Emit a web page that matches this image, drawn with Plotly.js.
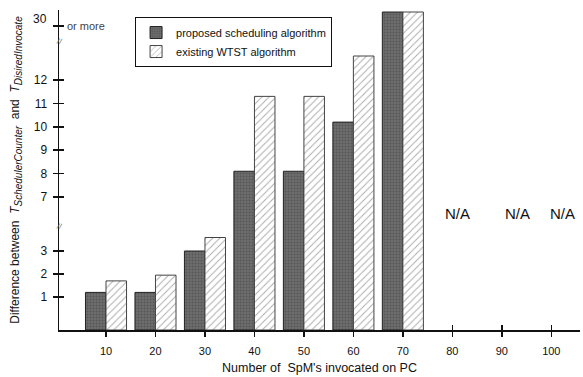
<!DOCTYPE html>
<html><head><meta charset="utf-8">
<script src="https://cdn.plot.ly/plotly-3.0.1.min.js"></script>
<style>html,body{margin:0;padding:0;background:#fff}#chart{width:583px;height:377px}</style>
</head><body><div id="chart"></div>
<script>
const categories = [10, 20, 30, 40, 50, 60, 70, 80, 90, 100];
const proposed = [1.2, 1.2, 3, 8.1, 8.1, 10.2, 35, null, null, null];
const existing = [1.7, 1.95, 4, 11.3, 11.3, 20, 35, null, null, null];
const seriesNames = ['proposed scheduling algorithm', 'existing WTST algorithm'];
const yTickValues = [1, 2, 3, 7, 8, 9, 10, 11, 12];
const yTickLabels = ['1', '2', '3', '7', '8', '9', '10', '11', '12'];
const topValue = 30;
const topLabel = '30';
const topNote = 'or more';
const naCategories = [80, 90, 100];
const naLabels = ['N/A', 'N/A', 'N/A'];
const breakValues = [4.8, 24.7];

// broken-axis scale: value -> display position
const scaleV = [0, 1, 3, 7, 12, 30, 35];
const scaleD = [0, 33, 79, 133, 250, 304, 318];
function brk(v) {
  if (v == null) return null;
  for (let i = 1; i < scaleV.length; i++) {
    if (v <= scaleV[i] || i === scaleV.length - 1) {
      const t = (v - scaleV[i - 1]) / (scaleV[i] - scaleV[i - 1]);
      return scaleD[i - 1] + t * (scaleD[i] - scaleD[i - 1]);
    }
  }
}
const FONT = 'Liberation Sans, Arial, Helvetica, sans-serif';

const traces = [
  {
    type: 'bar', name: seriesNames[0], x: categories, y: proposed.map(brk),
    customdata: proposed, hovertemplate: '%{x}: %{customdata}<extra></extra>',
    marker: { color: '#6a6a6a', line: { color: '#222', width: 1 },
      pattern: { shape: '.', fgcolor: '#555555', bgcolor: '#6e6e6e', size: 3, solidity: 0.35 } }
  },
  {
    type: 'bar', name: seriesNames[1], x: categories, y: existing.map(brk),
    customdata: existing, hovertemplate: '%{x}: %{customdata}<extra></extra>',
    marker: { color: '#ffffff', line: { color: '#444', width: 1 },
      pattern: { shape: '/', fgcolor: '#a8a8a8', bgcolor: '#ffffff', size: 5, solidity: 0.18 } }
  },
  { type: 'scatter', x: [], y: [], xaxis: 'x2', yaxis: 'y2', showlegend: false, hoverinfo: 'skip' },
  { type: 'scatter', x: [], y: [], xaxis: 'x', yaxis: 'y3', showlegend: false, hoverinfo: 'skip' }
];

const annotations = [];
naCategories.forEach((c, i) => {
  annotations.push({ x: c, xref: 'x', y: 0.33, yref: 'paper', text: naLabels[i], showarrow: false,
    xshift: [5, 16, 11][i], font: { family: FONT, size: 15, color: '#111' } });
});
annotations.push({ x: 0, xref: 'paper', xanchor: 'right', xshift: -10, y: 1, yref: 'paper', yanchor: 'top',
  text: topLabel, showarrow: false, font: { family: FONT, size: 12, color: '#111' } });
annotations.push({ x: 0, xref: 'paper', xanchor: 'left', xshift: 6, y: brk(topValue), yref: 'y',
  text: topNote, showarrow: false, font: { family: FONT, size: 11, color: '#444' } });
breakValues.forEach(b => {
  annotations.push({ x: 0, xref: 'paper', xshift: -6, y: brk(b), yref: 'y', text: '//', showarrow: false,
    textangle: 15, font: { family: FONT, size: 8, color: '#777' } });
});

const allTicks = yTickValues.concat([topValue]).map(brk);
const sub = s => '<sub><i><span style="font-size:10px">' + s + '</span></i></sub>';

const layout = {
  width: 583, height: 377,
  margin: { l: 59, r: 3, t: 10, b: 47 },
  paper_bgcolor: '#fff', plot_bgcolor: '#fff',
  font: { family: FONT, color: '#111' },
  barmode: 'group', bargap: 0.17, bargroupgap: 0,
  showlegend: true,
  legend: { x: 0.146, y: 0.978, xanchor: 'left', yanchor: 'top', bgcolor: '#fff',
    bordercolor: '#111', borderwidth: 1, font: { family: FONT, size: 11, color: '#111' },
    tracegroupgap: 0, itemwidth: 30 },
  xaxis: {
    range: [0.5, 105.8], tickvals: categories, ticktext: categories.map(String),
    ticks: 'outside', ticklen: 5, tickwidth: 1.5, tickcolor: '#111',
    showline: true, linecolor: '#111', linewidth: 1.5, showgrid: false, zeroline: false,
    tickfont: { family: FONT, size: 11, color: '#111' }, ticklabelstandoff: 5,
    title: { text: "Number of  SpM's invocated on PC", font: { family: FONT, size: 12.5, color: '#111' }, standoff: 7 }
  },
  xaxis2: {
    overlaying: 'x', anchor: 'y', range: [0.5, 105.8], tickvals: naCategories, showticklabels: false,
    ticks: 'inside', ticklen: 5, tickwidth: 1.5, tickcolor: '#111', showline: false, showgrid: false, zeroline: false
  },
  yaxis: {
    range: [0, 320], tickvals: yTickValues.map(brk), ticktext: yTickLabels,
    ticks: 'outside', ticklen: 5, tickwidth: 1.5, tickcolor: '#111',
    showline: true, linecolor: '#111', linewidth: 1.5, showgrid: false, zeroline: false,
    tickfont: { family: FONT, size: 12, color: '#111' }, ticklabelstandoff: 3,
    title: { text: 'Difference between  <i>T</i>' + sub('SchedulerCounter') + '  and  <i>T</i>' + sub('DisiredInvocate'),
      font: { family: FONT, size: 12, color: '#111' }, standoff: 11 }
  },
  yaxis2: {
    overlaying: 'y', anchor: 'x', side: 'left', range: [0, 320],
    tickvals: allTicks, showticklabels: false,
    ticks: 'inside', ticklen: 5, tickwidth: 1.5, tickcolor: '#111',
    showline: false, showgrid: false, zeroline: false
  },
  yaxis3: {
    overlaying: 'y', anchor: 'x', side: 'left', range: [0, 320],
    tickvals: [brk(topValue)], showticklabels: false,
    ticks: 'outside', ticklen: 5, tickwidth: 1.5, tickcolor: '#111',
    showline: false, showgrid: false, zeroline: false
  },
  annotations: annotations
};

Plotly.newPlot('chart', traces, layout, { displayModeBar: false, staticPlot: true });
</script></body></html>
